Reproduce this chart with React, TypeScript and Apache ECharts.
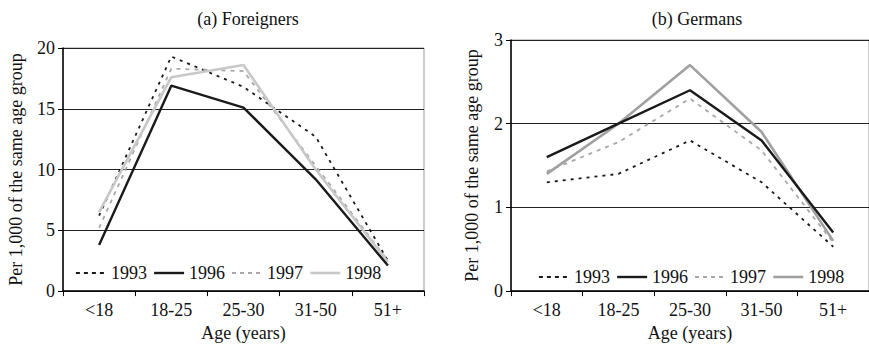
import React, { useEffect, useRef } from "react";
import * as echarts from "echarts";

const categories = ["<18", "18-25", "25-30", "31-50", "51+"];
const years = ["1993", "1996", "1997", "1998"];

const foreigners1993 = [6.2, 19.3, 16.8, 12.7, 2.5];
const foreigners1996 = [3.8, 16.9, 15.1, 9.2, 2.1];
const foreigners1997 = [5.2, 18.3, 18.1, 10.3, 2.5];
const foreigners1998 = [6.5, 17.6, 18.6, 10.0, 2.4];

const germans1993 = [1.3, 1.4, 1.8, 1.3, 0.53];
const germans1996 = [1.6, 2.0, 2.4, 1.8, 0.7];
const germans1997 = [1.43, 1.78, 2.3, 1.68, 0.58];
const germans1998 = [1.4, 2.0, 2.7, 1.9, 0.6];

const FONT = "Liberation Serif";
const FS = 18;

const styles: any = {
  "1993": { color: "#1a1a1a", width: 1.8, type: [3, 5] },
  "1996": { color: "#1a1a1a", width: 2.4, type: "solid" },
  "1997": { color: "#a8a8a8", width: 1.8, type: [4, 5] },
  "1998L": { color: "#c8c8c8", width: 2.6, type: "solid" },
  "1998R": { color: "#a0a0a0", width: 2.6, type: "solid" },
};

export default function App() {
  const ref = useRef<HTMLDivElement>(null);
  useEffect(() => {
    if (!ref.current) return;
    const chart = echarts.init(ref.current, null, { renderer: "svg" });

    const mkX = (gridIndex: number) => ({
      type: "category",
      gridIndex,
      data: categories,
      boundaryGap: true,
      axisLine: { lineStyle: { color: "#000", width: 1.5 } },
      axisTick: { show: true, length: 5, lineStyle: { color: "#000" }, alignWithLabel: false },
      axisLabel: { color: "#111", fontFamily: FONT, fontSize: FS, margin: 10 },
      name: "Age (years)",
      nameLocation: "middle",
      nameGap: 31,
      nameTextStyle: { color: "#111", fontFamily: FONT, fontSize: FS },
      splitLine: { show: false },
    });
    const mkY = (gridIndex: number, max: number, interval: number) => ({
      type: "value",
      gridIndex,
      min: 0,
      max,
      interval,
      axisLine: { show: true, lineStyle: { color: "#000", width: 1.5 } },
      axisTick: { show: true, length: 5, lineStyle: { color: "#000" } },
      axisLabel: { color: "#111", fontFamily: FONT, fontSize: FS, margin: 8 },
      splitLine: { show: true, lineStyle: { color: "#222", width: 1 } },
      name: "Per 1,000 of the same age group",
      nameLocation: "middle",
      nameGap: gridIndex === 0 ? 38 : 30,
      nameTextStyle: { color: "#111", fontFamily: FONT, fontSize: FS },
    });
    const mkSeries = (name: string, data: number[], idx: number, st: any) => ({
      name,
      type: "line",
      xAxisIndex: idx,
      yAxisIndex: idx,
      data,
      symbol: "none",
      lineStyle: { color: st.color, width: st.width, type: st.type },
      itemStyle: { color: st.color },
      z: name === "1996" ? 5 : 3,
    });
    const mkLegend = (left: number, top: number, right: boolean) => ({
      left,
      top,
      orient: "horizontal",
      itemWidth: 30,
      itemHeight: 14,
      itemGap: 6,
      textStyle: { color: "#111", fontFamily: FONT, fontSize: FS },
      data: years.map((y) => {
        const st = y === "1998" ? styles[right ? "1998R" : "1998L"] : styles[y];
        return {
          name: y,
          lineStyle: { color: st.color, width: st.width, type: y === "1993" || y === "1997" ? [4, 4] : "solid" },
          itemStyle: { color: st.color, opacity: 0 },
        };
      }),
      selectedMode: false,
    });

    chart.setOption({
      animation: false,
      title: [
        { text: "(a) Foreigners", left: 243, top: 5, textAlign: "center", textStyle: { fontFamily: FONT, fontSize: FS, fontWeight: "normal", color: "#111" } },
        { text: "(b) Germans", left: 692, top: 5, textAlign: "center", textStyle: { fontFamily: FONT, fontSize: FS, fontWeight: "normal", color: "#111" } },
      ],
      grid: [
        { left: 63, top: 48, width: 361, height: 245, show: true, borderColor: "#999", borderWidth: 1 },
        { left: 511, top: 40, width: 364, height: 254, show: true, borderColor: "#999", borderWidth: 1 },
      ],
      xAxis: [mkX(0), mkX(1)],
      yAxis: [mkY(0, 20, 5), mkY(1, 3, 1)],
      legend: [mkLegend(70, 259, false), mkLegend(533, 263, true)],
      series: [
        mkSeries("1993", foreigners1993, 0, styles["1993"]),
        mkSeries("1996", foreigners1996, 0, styles["1996"]),
        mkSeries("1997", foreigners1997, 0, styles["1997"]),
        mkSeries("1998", foreigners1998, 0, styles["1998L"]),
        mkSeries("1993", germans1993, 1, styles["1993"]),
        mkSeries("1996", germans1996, 1, styles["1996"]),
        mkSeries("1997", germans1997, 1, styles["1997"]),
        mkSeries("1998", germans1998, 1, styles["1998R"]),
      ],
    });
    return () => chart.dispose();
  }, []);
  return <div ref={ref} style={{ width: 869, height: 347, position: "absolute", left: 0, top: 0, background: "#fff" }} />;
}
